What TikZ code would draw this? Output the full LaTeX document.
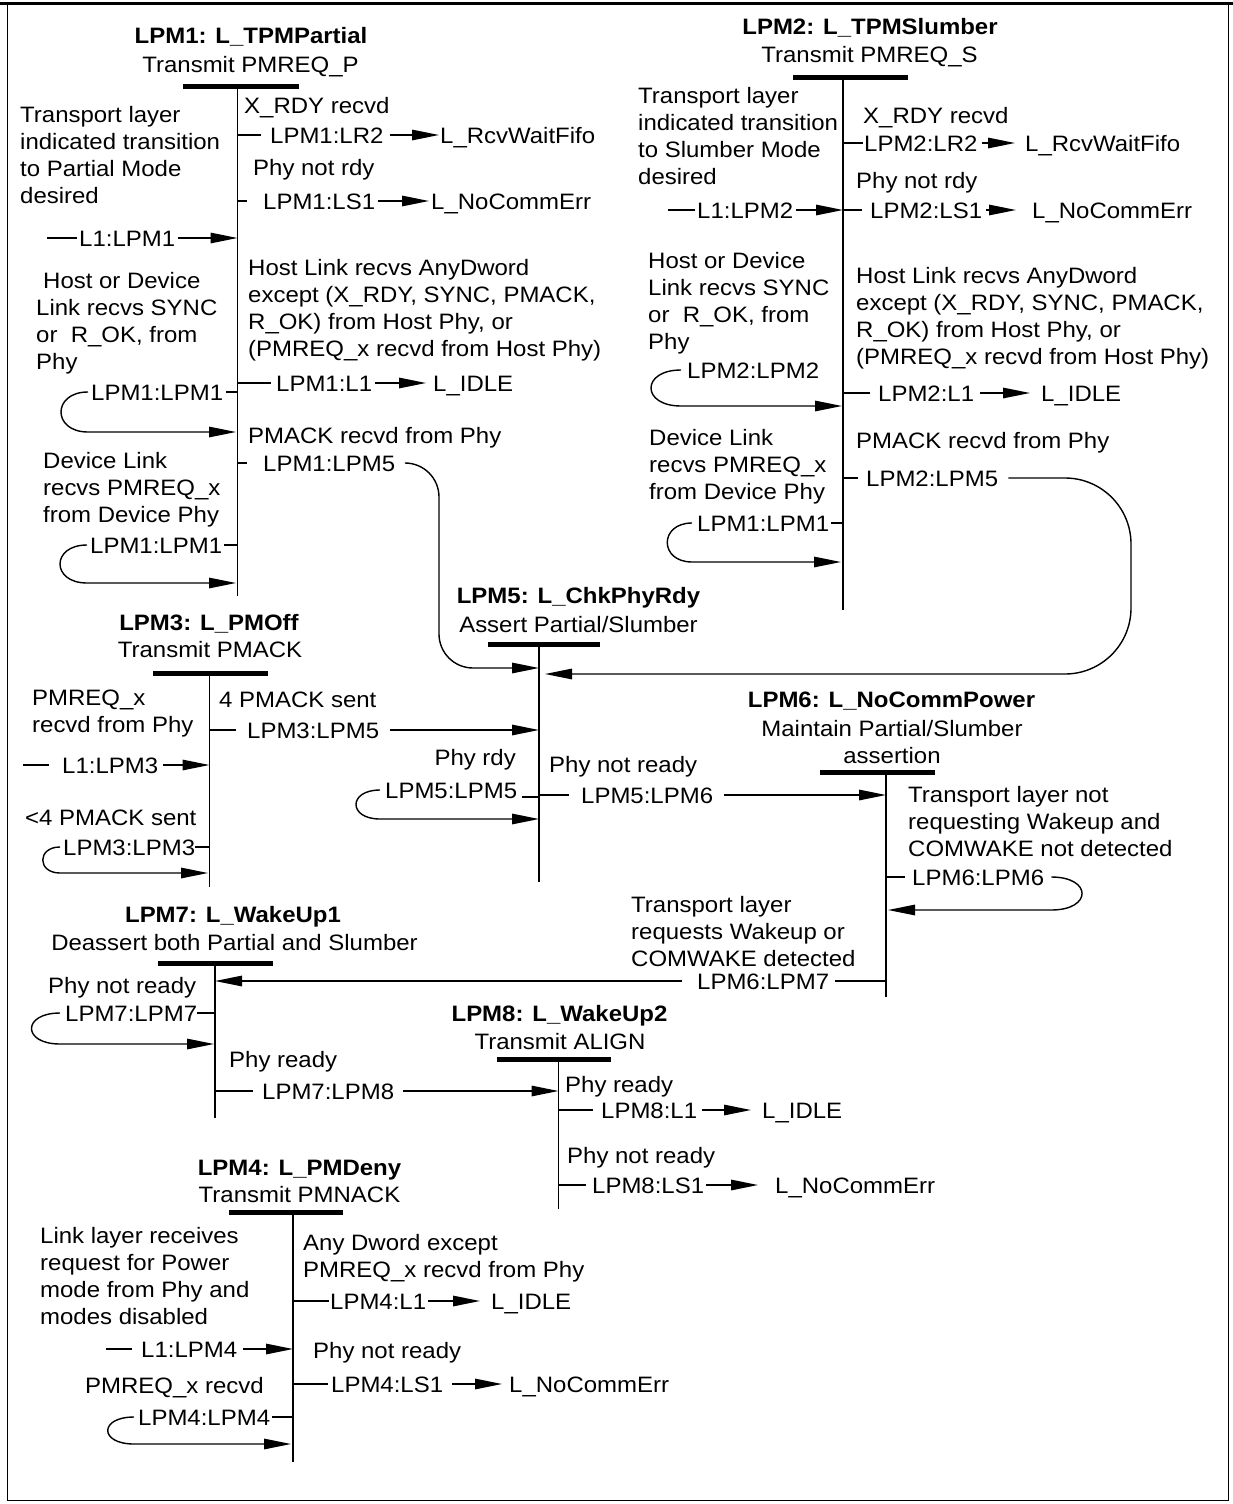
\documentclass[tikz,border=0pt]{standalone}
\usepackage{fontspec}
\setmainfont{Liberation Sans}[FakeStretch=1.075]
\usetikzlibrary{arrows.meta,calc}
\newcommand\fs{\fontsize{22.3}{27}\selectfont}
\newcommand\ml[1]{\begin{tabular}[t]{@{}l@{}}#1\end{tabular}}
\newcommand\mlc[1]{\begin{tabular}[t]{@{}c@{}}#1\end{tabular}}
\newcommand\myloop[4]{\draw[arr] ([xshift=-#3pt]#1.west) .. controls +(-#4,0) and +(-#4,0) .. ($(#2 -| #1.west)+(-#3,0)$) -- (#2);}
\tikzset{
 lbl/.style={inner sep=0pt, anchor=west, text height=16pt, text depth=0pt},
 txt/.style={inner sep=0pt, anchor=base west},
 ttl/.style={inner sep=0pt, anchor=base, font=\fs\bfseries},
 sub/.style={inner sep=0pt, anchor=base},
 conn/.style={line width=1.4pt},
 arr/.style={conn, -{Triangle[length=27pt,width=10.5pt]}},
 sline/.style={line width=1.9pt},
 sbar/.style={line width=5pt},
}
\begin{document}
\begin{tikzpicture}[x=1pt,y=-1pt,every node/.style={font=\fs}]
\useasboundingbox (0,0) rectangle (1233,1504);
% frame
\draw[line width=2.5pt] (0,3.5) -- (1233,3.5);
\draw[line width=1pt] (7,4) -- (7,1500) -- (1228,1500) -- (1228,4);

% state lines (coordinates)
\coordinate (v1) at (237.5,86);  \coordinate (v1e) at (237.5,596);
\coordinate (v2) at (843,77);    \coordinate (v2e) at (843,610);
\coordinate (v3) at (209.5,673); \coordinate (v3e) at (209.5,887);
\coordinate (v5) at (539,644);   \coordinate (v5e) at (539,882);
\coordinate (v6) at (886,772);   \coordinate (v6e) at (886,997);
\coordinate (v7) at (215,963);   \coordinate (v7e) at (215,1118);
\coordinate (v8) at (558.5,1059);\coordinate (v8e) at (558.5,1209);
\coordinate (v4) at (293,1212);  \coordinate (v4e) at (293,1462);

\draw[sbar] (183,86) -- (299,86);
\draw[sbar] (793,77) -- (908,77);
\draw[sbar] (153,673) -- (268,673);
\draw[sbar] (488,644) -- (600,644);
\draw[sbar] (820,772) -- (935,772);
\draw[sbar] (158,963) -- (273,963);
\draw[sbar] (497,1059) -- (611,1059);
\draw[sbar] (229,1212) -- (343,1212);
\foreach \a/\b in {v1/v1e,v2/v2e,v3/v3e,v5/v5e,v6/v6e,v7/v7e,v8/v8e,v4/v4e}
  \draw[sline] (\a) -- (\b);

% ---------------- LPM1
\node[ttl] (s1t) at (251,44) {LPM1: L\_TPMPartial};
\node[sub] (s1s) at (250.5,73) {Transmit PMREQ\_P};
\node[txt] (d1a) at (20,122) {\ml{Transport layer\\indicated transition\\to Partial Mode\\desired}};
\node[txt] (c1a) at (244,113) {X\_RDY recvd};
\node[lbl] (p1r2) at (270,135) {LPM1:LR2};
\node[lbl] (t1r2) at (440,135) {L\_RcvWaitFifo};
\node[txt] (c1b) at (253,175) {Phy not rdy};
\node[lbl] (p1s1) at (263,201) {LPM1:LS1};
\node[lbl] (t1s1) at (431,201) {L\_NoCommErr};
\node[lbl] (l1p1) at (79,238) {L1:LPM1};
\node[txt] (d1b) at (36,288) {\ml{\hspace{7pt}Host or Device\\Link recvs SYNC\\or\ \ R\_OK, from\\Phy}};
\node[txt] (c1c) at (248,275) {\ml{Host Link recvs AnyDword\\except (X\_RDY, SYNC, PMACK,\\R\_OK) from Host Phy, or\\(PMREQ\_x recvd from Host Phy)}};
\node[lbl] (p11a) at (91,392) {LPM1:LPM1};
\node[lbl] (p1l1) at (276,383) {LPM1:L1};
\node[lbl] (t1l1) at (433,383) {L\_IDLE};
\node[txt] (c1d) at (248,443) {PMACK recvd from Phy};
\node[lbl] (p15) at (263,463) {LPM1:LPM5};
\node[txt] (d1c) at (43,468) {\ml{Device Link\\recvs PMREQ\_x\\from Device Phy}};
\node[lbl] (p11b) at (90,545) {LPM1:LPM1};

\coordinate (e1a) at (236,432);
\coordinate (e1b) at (236,583);
\coordinate (k15) at (439,668);
\draw[conn] (v1 |- p1r2.west) -- ([xshift=-9pt]p1r2.west);
\draw[arr] ([xshift=6pt]p1r2.east) -- ([xshift=-1pt]t1r2.west);
\draw[conn] (v1 |- p1s1.west) -- ([xshift=-16pt]p1s1.west);
\draw[arr] ([xshift=3pt]p1s1.east) -- ([xshift=-2pt]t1s1.west);
\draw[conn] ([xshift=-32pt]l1p1.west) -- ([xshift=-2pt]l1p1.west);
\draw[arr] ([xshift=3pt]l1p1.east) -- (v1 |- l1p1.east);
\draw[conn] ([xshift=3pt]p11a.east) -- (v1 |- p11a.east);
\myloop{p11a}{e1a}{3}{36}
\draw[conn] (v1 |- p1l1.west) -- ([xshift=-5pt]p1l1.west);
\draw[arr] ([xshift=3pt]p1l1.east) -- ([xshift=-7pt]t1l1.west);
\draw[conn] (v1 |- p15.west) -- ([xshift=-16pt]p15.west);
\draw[arr, rounded corners=34pt] ([xshift=10pt]p15.east) -| (k15) -- (v5 |- k15);
\draw[conn] ([xshift=2pt]p11b.east) -- (v1 |- p11b.east);
\myloop{p11b}{e1b}{3}{36}

% ---------------- LPM2
\node[ttl] (s2t) at (870,35) {LPM2: L\_TPMSlumber};
\node[sub] (s2s) at (869.5,63) {Transmit PMREQ\_S};
\node[txt] (d2a) at (638,103) {\ml{Transport layer\\indicated transition\\to Slumber Mode\\desired}};
\node[txt] (c2a) at (863,123) {X\_RDY recvd};
\node[lbl] (p2r2) at (864,143) {LPM2:LR2};
\node[lbl] (t2r2) at (1025,143) {L\_RcvWaitFifo};
\node[txt] (c2b) at (856,188) {Phy not rdy};
\node[lbl] (l1p2) at (697,210) {L1:LPM2};
\node[lbl] (p2s1) at (870,210) {LPM2:LS1};
\node[lbl] (t2s1) at (1032,210) {L\_NoCommErr};
\node[txt] (d2b) at (648,268) {\ml{Host or Device\\Link recvs SYNC\\or\ \ R\_OK, from\\Phy}};
\node[txt] (c2c) at (856,283) {\ml{Host Link recvs AnyDword\\except (X\_RDY, SYNC, PMACK,\\R\_OK) from Host Phy, or\\(PMREQ\_x recvd from Host Phy)}};
\node[lbl] (p22) at (687,370) {LPM2:LPM2};
\node[lbl] (p2l1) at (878,393) {LPM2:L1};
\node[lbl] (t2l1) at (1041,393) {L\_IDLE};
\node[txt] (d2c) at (649,445) {\ml{Device Link\\recvs PMREQ\_x\\from Device Phy}};
\node[txt] (c2d) at (856,448) {PMACK recvd from Phy};
\node[lbl] (p25) at (866,478) {LPM2:LPM5};
\node[lbl] (p11c) at (697,523) {LPM1:LPM1};

\coordinate (e2a) at (842,406);
\coordinate (e2b) at (841,562);
\coordinate (k25) at (1131,674);
\coordinate (e25) at (545,674);
\draw[conn] (v2 |- p2r2.west) -- ([xshift=-1pt]p2r2.west);
\draw[arr] ([xshift=4pt]p2r2.east) -- ([xshift=-10pt]t2r2.west);
\draw[conn] ([xshift=-29pt]l1p2.west) -- ([xshift=-2pt]l1p2.west);
\draw[arr] ([xshift=3pt]l1p2.east) -- (v2 |- l1p2.east);
\draw[conn] (v2 |- p2s1.west) -- ([xshift=-8pt]p2s1.west);
\draw[arr] ([xshift=4pt]p2s1.east) -- ([xshift=-16pt]t2s1.west);
\myloop{p22}{e2a}{6}{40}
\draw[conn] (v2 |- p2l1.west) -- ([xshift=-8pt]p2l1.west);
\draw[arr] ([xshift=6pt]p2l1.east) -- ([xshift=-11pt]t2l1.west);
\draw[conn] (v2 |- p25.west) -- ([xshift=-8pt]p25.west);
\draw[arr, rounded corners=66pt] ([xshift=10pt]p25.east) -| (k25) -- (e25);
\draw[conn] ([xshift=2pt]p11c.east) -- (v2 |- p11c.east);
\myloop{p11c}{e2b}{5}{33}

% ---------------- LPM5
\node[ttl] (s5t) at (578.5,603) {LPM5: L\_ChkPhyRdy};
\node[sub] (s5s) at (578.5,632) {Assert Partial/Slumber};
\node[txt, anchor=base east] (c5a) at (516,765) {Phy rdy};
\node[lbl] (p55) at (385,790) {LPM5:LPM5};
\node[txt] (c5b) at (549,772) {Phy not ready};
\node[lbl] (p56) at (581,795) {LPM5:LPM6};
\coordinate (e5a) at (539,819);
\draw[conn] ([xshift=5pt,yshift=-7pt]p55.east) coordinate (q55) -- (v5 |- q55);
\myloop{p55}{e5a}{5}{32}
\draw[conn] (v5 |- p56.west) -- ([xshift=-12pt]p56.west);
\draw[arr] ([xshift=11pt]p56.east) -- (v6 |- p56.east);

% ---------------- LPM3
\node[ttl] (s3t) at (209,630) {LPM3: L\_PMOff};
\node[sub] (s3s) at (210,657) {Transmit PMACK};
\node[txt] (d3a) at (32,705) {\ml{PMREQ\_x\\recvd from Phy}};
\node[txt] (c3a) at (219,707) {4 PMACK sent};
\node[lbl] (p35) at (247,730) {LPM3:LPM5};
\node[lbl] (l1p3) at (62,765) {L1:LPM3};
\node[txt] (d3b) at (25,825) {<4 PMACK sent};
\node[lbl] (p33) at (63,847) {LPM3:LPM3};
\coordinate (e3a) at (208,873);
\draw[conn] (v3 |- p35.west) -- ([xshift=-11pt]p35.west);
\draw[arr] ([xshift=11pt]p35.east) -- (v5 |- p35.east);
\draw[conn] ([xshift=-39pt]l1p3.west) -- ([xshift=-13pt]l1p3.west);
\draw[arr] ([xshift=5pt]l1p3.east) -- (v3 |- l1p3.east);
\draw[conn] (p33.east) -- (v3 |- p33.east);
\myloop{p33}{e3a}{3}{23}

% ---------------- LPM6
\node[ttl] (s6t) at (891.5,707) {LPM6: L\_NoCommPower};
\node[sub] (s6s) at (892,736) {\mlc{Maintain Partial/Slumber\\assertion}};
\node[txt] (c6a) at (908,802) {\ml{Transport layer not\\requesting Wakeup and\\COMWAKE not detected}};
\node[lbl] (p66) at (912,877) {LPM6:LPM6};
\node[txt] (c6b) at (631,912) {\ml{Transport layer\\requests Wakeup or\\COMWAKE detected}};
\node[lbl] (p67) at (697,981) {LPM6:LPM7};
\coordinate (e6a) at (888,910);
\draw[conn] (v6 |- p66.west) -- ([xshift=-7pt]p66.west);
\draw[arr] ([xshift=7pt]p66.east) .. controls +(41,0) and +(41,0) .. ($(e6a -| p66.east)+(7,0)$) -- (e6a);
\draw[conn] (v6 |- p67.east) -- ([xshift=6pt]p67.east);
\draw[arr] ([xshift=-15pt]p67.west) -- (v7 |- p67.west);

% ---------------- LPM7
\node[ttl] (s7t) at (233,922) {LPM7: L\_WakeUp1};
\node[sub] (s7s) at (234.5,950) {Deassert both Partial and Slumber};
\node[txt] (c7a) at (48,993) {Phy not ready};
\node[lbl] (p77) at (65,1013) {LPM7:LPM7};
\node[txt] (c7b) at (229,1067) {Phy ready};
\node[lbl] (p78) at (262,1091) {LPM7:LPM8};
\coordinate (e7a) at (214,1044);
\draw[conn] (p77.east) -- (v7 |- p77.east);
\myloop{p77}{e7a}{5}{38}
\draw[conn] (v7 |- p78.west) -- ([xshift=-9pt]p78.west);
\draw[arr] ([xshift=9pt]p78.east) -- (v8 |- p78.east);

% ---------------- LPM8
\node[ttl] (s8t) at (559.5,1021) {LPM8: L\_WakeUp2};
\node[sub] (s8s) at (560,1049) {Transmit ALIGN};
\node[txt] (c8a) at (565,1092) {Phy ready};
\node[lbl] (p8l1) at (601,1110) {LPM8:L1};
\node[lbl] (t8l1) at (762,1110) {L\_IDLE};
\node[txt] (c8b) at (567,1163) {Phy not ready};
\node[lbl] (p8s1) at (592,1185) {LPM8:LS1};
\node[lbl] (t8s1) at (775,1185) {L\_NoCommErr};
\draw[conn] (v8 |- p8l1.west) -- ([xshift=-8pt]p8l1.west);
\draw[arr] ([xshift=5pt]p8l1.east) -- ([xshift=-11pt]t8l1.west);
\draw[conn] (v8 |- p8s1.west) -- ([xshift=-6pt]p8s1.west);
\draw[arr] ([xshift=2pt]p8s1.east) -- ([xshift=-17pt]t8s1.west);

% ---------------- LPM4
\node[ttl] (s4t) at (299.5,1175) {LPM4: L\_PMDeny};
\node[sub] (s4s) at (299.5,1202) {Transmit PMNACK};
\node[txt] (d4a) at (40,1243) {\ml{Link layer receives\\request for Power\\mode from Phy and\\modes disabled}};
\node[txt] (c4a) at (303,1250) {\ml{Any Dword except\\PMREQ\_x recvd from Phy}};
\node[lbl] (p4l1) at (330,1301) {LPM4:L1};
\node[lbl] (t4l1) at (491,1301) {L\_IDLE};
\node[lbl] (l1p4) at (141,1349) {L1:LPM4};
\node[txt] (c4b) at (313,1358) {Phy not ready};
\node[txt] (d4b) at (85,1393) {PMREQ\_x recvd};
\node[lbl] (p4s1) at (331,1384) {LPM4:LS1};
\node[lbl] (t4s1) at (509,1384) {L\_NoCommErr};
\node[lbl] (p44) at (138,1417) {LPM4:LPM4};
\coordinate (e4a) at (291,1444);
\draw[conn] (v4 |- p4l1.west) -- ([xshift=-1pt]p4l1.west);
\draw[arr] ([xshift=2pt]p4l1.east) -- ([xshift=-11pt]t4l1.west);
\draw[conn] ([xshift=-35pt]l1p4.west) -- ([xshift=-9pt]l1p4.west);
\draw[arr] ([xshift=6pt]l1p4.east) -- (v4 |- l1p4.east);
\draw[conn] (v4 |- p4s1.west) -- ([xshift=-3pt]p4s1.west);
\draw[arr] ([xshift=9pt]p4s1.east) -- ([xshift=-7pt]t4s1.west);
\draw[conn] ([xshift=2pt]p44.east) -- (v4 |- p44.east);
\myloop{p44}{e4a}{4}{35}
\end{tikzpicture}
\end{document}
